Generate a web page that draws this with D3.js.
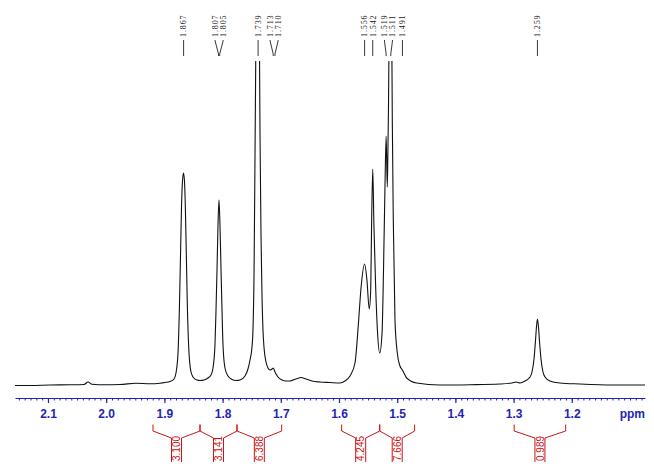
<!DOCTYPE html>
<html><head><meta charset="utf-8">
<script src="https://cdn.jsdelivr.net/npm/d3@7/dist/d3.min.js"></script>
<style>html,body{margin:0;padding:0;background:#fff;} svg{display:block;}</style>
</head><body>
<svg id="chart" width="654" height="476"></svg>
<script>
// ---- data ----
const specPpm = [2.1567,2.1309,2.0966,2.0622,2.0381,2.0313,2.0244,2.0021,1.9763,1.9488,1.9247,1.9076,1.8990,1.8904,1.8835,1.8801,1.8766,1.8741,1.8723,1.8706,1.8689,1.8672,1.8655,1.8640,1.8623,1.8606,1.8580,1.8546,1.8509,1.8440,1.8388,1.8320,1.8251,1.8199,1.8165,1.8131,1.8113,1.8096,1.8079,1.8062,1.8045,1.8027,1.8010,1.7993,1.7959,1.7907,1.7838,1.7770,1.7701,1.7615,1.7564,1.7529,1.7495,1.7478,1.7460,1.7443,1.7426,1.7409,1.7392,1.7375,1.7357,1.7340,1.7323,1.7306,1.7289,1.7254,1.7220,1.7186,1.7151,1.7129,1.7100,1.7048,1.6979,1.6911,1.6842,1.6739,1.6653,1.6567,1.6464,1.6326,1.6155,1.5983,1.5897,1.5811,1.5725,1.5668,1.5620,1.5560,1.5520,1.5480,1.5455,1.5440,1.5420,1.5400,1.5370,1.5340,1.5300,1.5260,1.5235,1.5210,1.5190,1.5170,1.5160,1.5150,1.5138,1.5110,1.5094,1.5084,1.5067,1.5038,1.4998,1.4952,1.4910,1.4837,1.4665,1.4265,1.3749,1.3234,1.3027,1.2959,1.2890,1.2804,1.2718,1.2684,1.2649,1.2624,1.2607,1.2590,1.2572,1.2555,1.2529,1.2495,1.2460,1.2375,1.2203,1.1859,1.1515,1.1172,1.0742];
const specInt = [-0.5,-0.5,0,0.2,0.5,3,0.8,0.3,0.5,1.8,1.2,1.8,2.5,3.5,6,12,32,80,130,178,204,212,204,178,130,80,35,14,8,5,4.5,5,7,10,17,40,75,115,160,185,160,115,75,40,17,9,5.5,4.5,5,9,16,25,38,55,110,230,360,480,560,420,250,150,90,55,38,23,17,15,16,17,13,8,5,4,4,6,7.5,6,4,3,2.5,2,4,9,22,60,98,121,105,76,95,160,216,160,98,55,32,52,115,198,249,198,232,275,360,470,360,265,165,65,32,19,15,7,2,0,0.3,1,2,3,2,4,8,13,26,44,58,66,58,44,26,13,8,4,2,1,0.3,0,0];

const peakLabels = [1.867,1.807,1.805,1.739,1.713,1.710,1.556,1.542,1.519,1.511,1.491,1.259];

const integralFrom = [1.9196,1.8388,1.7753,1.5954,1.5300,1.2990];
const integralTo   = [1.8388,1.7753,1.6985,1.5300,1.4700,1.2105];
const integralValues = ["3.100","3.141","6.388","4.245","7.666","0.989"];

const axisTicks = [2.1,2.0,1.9,1.8,1.7,1.6,1.5,1.4,1.3,1.2];
const axisTickLabels = ["2.1","2.0","1.9","1.8","1.7","1.6","1.5","1.4","1.3","1.2"];
const axisUnit = "ppm";

// ---- drawing ----
const svg = d3.select("#chart");
const BLUE = "#2424b4", RED = "#cc1414";

const x = d3.scaleLinear().domain([2.1567, 1.0742]).range([15, 645]);
const y = d3.scaleLinear().domain([0, 325]).range([385, 60]);

svg.append("defs").append("clipPath").attr("id","plotclip")
  .append("rect").attr("x",0).attr("y",61).attr("width",654).attr("height",415);

const pts = specPpm.map((p,i)=>[p, specInt[i]]);
svg.append("path")
  .datum(pts)
  .attr("clip-path","url(#plotclip)")
  .attr("fill","none").attr("stroke","#111").attr("stroke-width",1.1)
  .attr("d", d3.line().x(d=>x(d[0])).y(d=>y(d[1])).curve(d3.curveMonotoneX));

// axis
const axisY = 398;
const minorVals = d3.range(108, 216).map(d=>d/100);
svg.append("g").attr("transform",`translate(0,${axisY})`)
  .call(d3.axisBottom(x).tickValues(minorVals).tickSize(2.5).tickSizeOuter(0).tickFormat(""))
  .call(g=>{g.select(".domain").attr("stroke",BLUE).attr("stroke-width",1.2);
            g.selectAll(".tick line").attr("stroke",BLUE);});
svg.append("g").attr("transform",`translate(0,${axisY})`)
  .call(d3.axisBottom(x).tickValues(axisTicks).tickSize(5).tickSizeOuter(0).tickPadding(6.5)
        .tickFormat((d,i)=>axisTickLabels[i]))
  .call(g=>{g.select(".domain").remove();
            g.selectAll(".tick line").attr("stroke",BLUE).attr("stroke-width",1.2);
            g.selectAll(".tick text").attr("fill",BLUE).attr("font-family","Liberation Sans, Arial, sans-serif")
             .attr("font-size",12).attr("font-weight","bold");});
svg.append("text").attr("x",645).attr("y",418).attr("text-anchor","end")
  .attr("fill",BLUE).attr("font-family","Liberation Sans, Arial, sans-serif")
  .attr("font-size",12).attr("font-weight","bold").text(axisUnit);

// peak labels with spreading
function spreadLabels(xs, gap){
  let clusters = xs.map(v=>({items:[v], center:v}));
  let changed = true;
  while(changed){
    changed=false;
    for(let i=0;i<clusters.length-1;i++){
      const a=clusters[i], b=clusters[i+1];
      const aR=a.center+(a.items.length-1)*gap/2;
      const bL=b.center-(b.items.length-1)*gap/2;
      if(bL-aR<gap){
        const items=a.items.concat(b.items);
        clusters.splice(i,2,{items, center:d3.mean(items)});
        changed=true;break;
      }
    }
  }
  const out=[];
  clusters.forEach(c=>c.items.forEach((v,k)=>out.push(c.center+(k-(c.items.length-1)/2)*gap)));
  return out;
}
const peakX = peakLabels.map(p=>x(p));
const order = d3.range(peakX.length).sort((a,b)=>peakX[a]-peakX[b]);
const spread = spreadLabels(order.map(i=>peakX[i]), 8);
const labelX = new Array(peakX.length);
order.forEach((idx,k)=>labelX[idx]=spread[k]);

const lab = svg.append("g");
peakLabels.forEach((p,i)=>{
  const lx=labelX[i], px=peakX[i];
  lab.append("path").attr("fill","none").attr("stroke","#222").attr("stroke-width",0.9)
    .attr("d",`M${lx},40 L${lx},41 L${px},54 L${px},56`);
  lab.append("text").attr("transform",`translate(${lx},37) rotate(-90)`)
    .attr("dy","0.35em").attr("text-anchor","start")
    .attr("font-family","Liberation Serif, Times New Roman, serif").attr("font-size",8)
    .attr("letter-spacing",0.9).attr("fill","#222").text(d3.format(".3f")(p));
});

// integrals
const ig = svg.append("g");
integralFrom.forEach((f,i)=>{
  const a=x(f), b=x(integralTo[i]), c=(a+b)/2;
  ig.append("path").attr("fill","none").attr("stroke",RED).attr("stroke-width",1)
    .attr("d",`M${a},424.5 L${a},431 L${c-5},438 L${c-5},462 M${c+5},462 L${c+5},438 L${b},431 L${b},424.5`);
  ig.append("text").attr("transform",`translate(${c},461) rotate(-90)`)
    .attr("dy","0.36em").attr("text-anchor","start")
    .attr("font-family","Liberation Sans, Arial, sans-serif").attr("font-size",10)
    .attr("fill",RED).text(integralValues[i]);
});
</script>
</body></html>
